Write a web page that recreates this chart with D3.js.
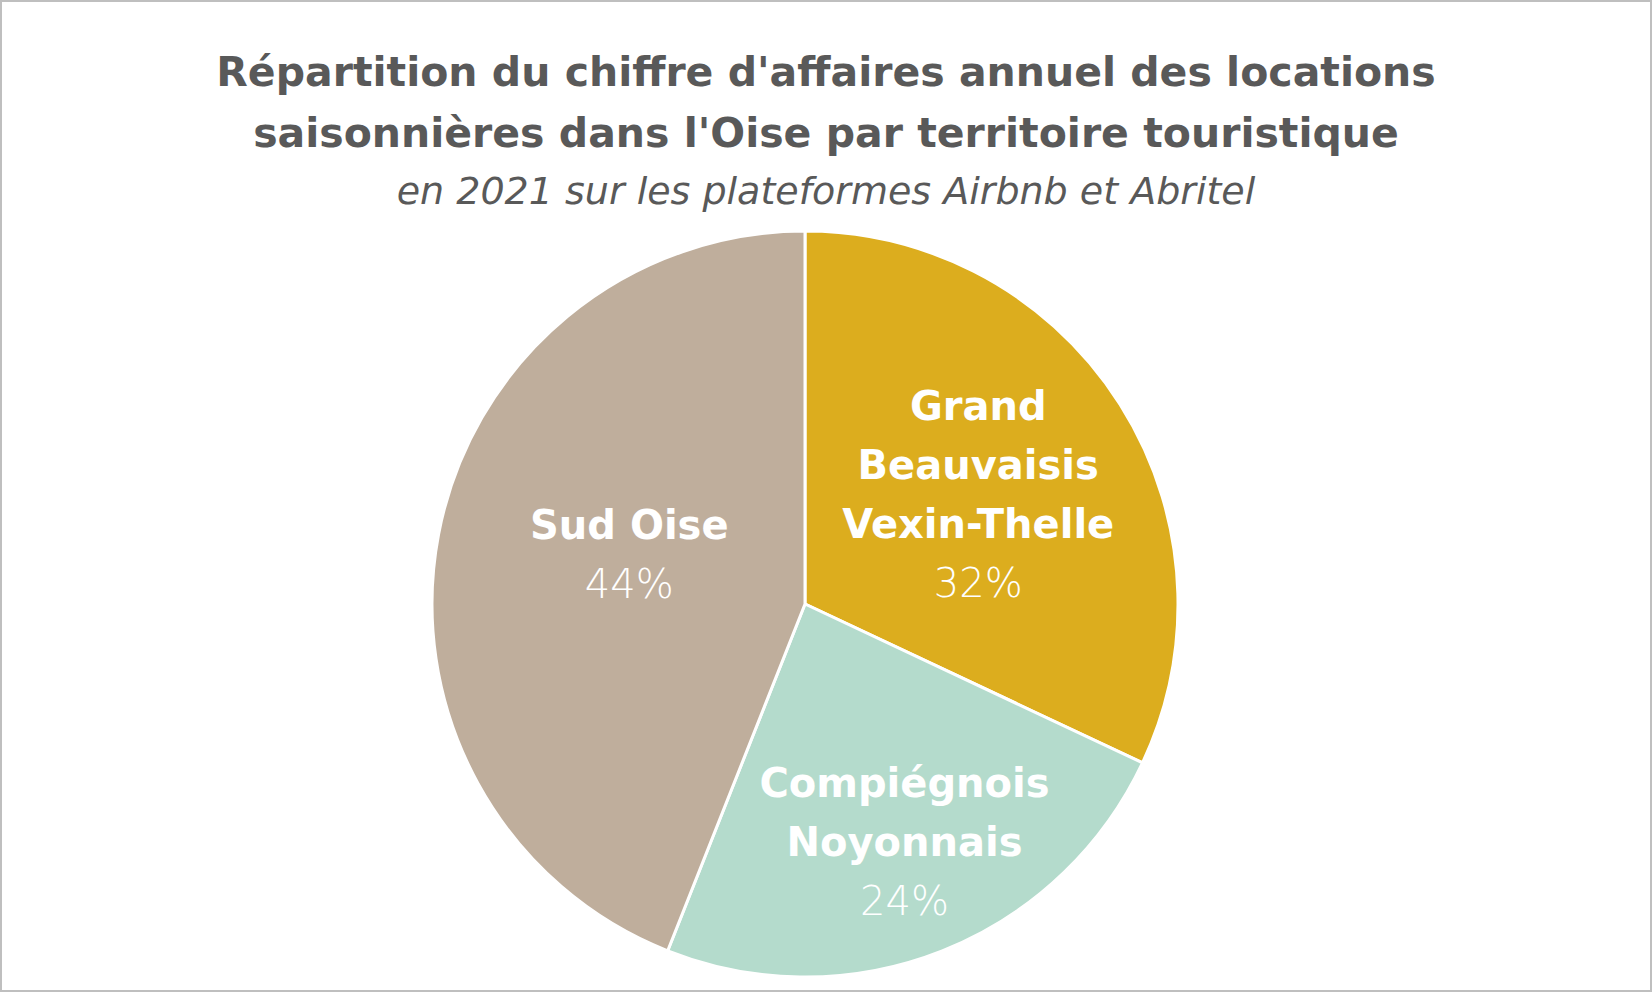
<!DOCTYPE html>
<html><head><meta charset="utf-8">
<script src="https://cdn.jsdelivr.net/npm/d3@7/dist/d3.min.js"></script>
<style>body{margin:0;background:#fff}</style></head>
<body><svg id="c" width="1652" height="992"></svg>
<script>
const categories = ["Grand Beauvaisis Vexin-Thelle", "Compiégnois Noyonnais", "Sud Oise"];
const labelLines = [["Grand","Beauvaisis","Vexin-Thelle"],["Compiégnois","Noyonnais"],["Sud Oise"]];
const values = [32, 24, 44];
const colors = ["#DCAD1E", "#B4DBCC", "#BFAE9C"];

const svg = d3.select("#c");
const W = 1652, H = 992;
svg.append("rect").attr("x",1).attr("y",1).attr("width",W-2).attr("height",H-2)
  .attr("fill","#fff").attr("stroke","#BFBFBF").attr("stroke-width",2);
const font = "'Century Gothic','DejaVu Sans',sans-serif";
const title = ["Répartition du chiffre d'affaires annuel des locations","saisonnières dans l'Oise par territoire touristique"];
title.forEach((t,i)=>svg.append("text").attr("x",W/2).attr("y",86+i*61).attr("text-anchor","middle")
  .attr("font-family",font).attr("font-weight","bold").attr("font-size",41).attr("fill","#595959").text(t));
svg.append("text").attr("x",W/2).attr("y",204).attr("text-anchor","middle").attr("font-family",font)
  .attr("font-style","italic").attr("font-weight",300).attr("font-size",38).attr("fill","#595959").text("en 2021 sur les plateformes Airbnb et Abritel");

const cx = 805, cy = 604, R = 373;
const g = svg.append("g").attr("transform",`translate(${cx},${cy})`);
const pie = d3.pie().sort(null).value(d=>d)(values);
const arc = d3.arc().innerRadius(0).outerRadius(R);
g.selectAll("path").data(pie).enter().append("path").attr("d",arc)
  .attr("fill",(d,i)=>colors[i]).attr("stroke","#fff").attr("stroke-width",3);
const lr = [0.55, 0.69, 0.49];
const angAdj = [0, -0.02, 0.09];
pie.forEach((d,i)=>{
  const a = (d.startAngle+d.endAngle)/2 + angAdj[i];
  const x = Math.sin(a)*R*lr[i], y = -Math.cos(a)*R*lr[i];
  const lines = labelLines[i].concat([values[i]+"%"]);
  const n = lines.length, lh = 59;
  lines.forEach((t,j)=>{
    g.append("text").attr("x",x).attr("y",y+(j-(n-1)/2)*lh).attr("dy","0.36em")
      .attr("text-anchor","middle").attr("font-family",font)
      .attr("font-weight", j<n-1?"bold":200).attr("font-size",40).attr("fill","#fff").text(t);
  });
});
</script></body></html>
